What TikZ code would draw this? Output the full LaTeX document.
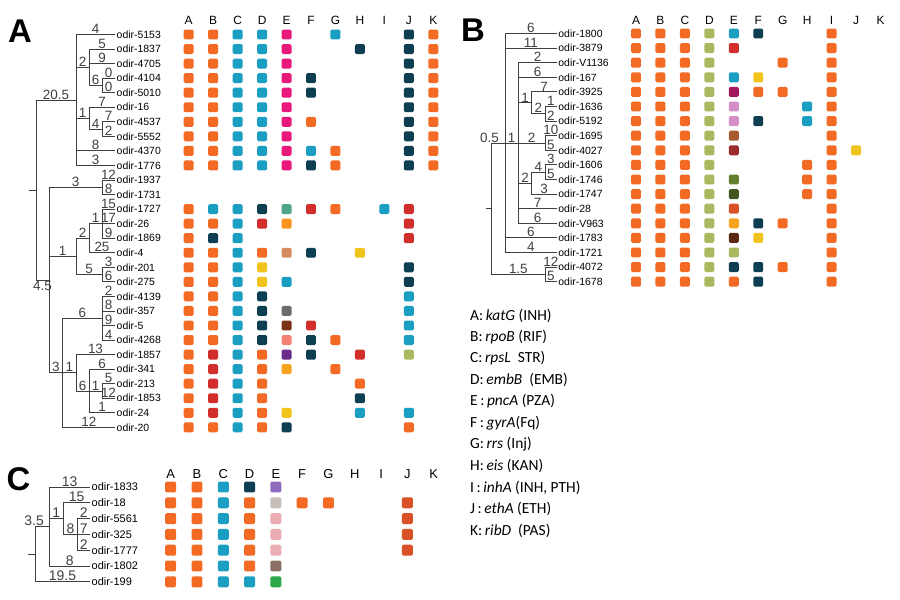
\documentclass[tikz,border=0pt]{standalone}
\usepackage{fontspec}
\setmainfont{Liberation Sans}
\newfontfamily\legendfont{Carlito}

% colours of the mutation squares
\definecolor{or}{HTML}{F26A24}
\definecolor{cy}{HTML}{1A9EC2}
\definecolor{nv}{HTML}{0D3E52}
\definecolor{mg}{HTML}{E8197A}
\definecolor{rd}{HTML}{D22F2C}
\definecolor{lg}{HTML}{A8B95F}
\definecolor{yl}{HTML}{F1C31D}
\definecolor{tg}{HTML}{4FA48C}
\definecolor{am}{HTML}{F6A41E}
\definecolor{ao}{HTML}{F7941D}
\definecolor{tn}{HTML}{D68B5E}
\definecolor{gy}{HTML}{6B6B6B}
\definecolor{db}{HTML}{7B3116}
\definecolor{sa}{HTML}{F48175}
\definecolor{pu}{HTML}{6A2B8A}
\definecolor{wn}{HTML}{A21A5B}
\definecolor{li}{HTML}{D48FC8}
\definecolor{br}{HTML}{A55A2F}
\definecolor{dr}{HTML}{9D2A2C}
\definecolor{ol}{HTML}{63802F}
\definecolor{dl}{HTML}{44561F}
\definecolor{ro}{HTML}{D95227}
\definecolor{dk}{HTML}{5B2812}
\definecolor{la}{HTML}{8F6BBE}
\definecolor{be}{HTML}{C8C0B8}
\definecolor{pk}{HTML}{E9ADB3}
\definecolor{tp}{HTML}{8B6F66}
\definecolor{gr}{HTML}{2EA84A}

\tikzstyle{branch} = [draw, line width=0.9pt, black!75]
\tikzstyle{blen} = [above, pos=0.75, inner sep=0.4pt, font=\fontsize{13.5}{14}\selectfont]
\tikzstyle{leaf} = [anchor=west, inner sep=1.5pt, font=\fontsize{10.5}{11}\selectfont]
\tikzstyle{cell} = [rectangle, rounded corners=1.5pt, minimum size=10pt, inner sep=0pt]
\tikzstyle{hdr} = [font=\fontsize{12}{13}\selectfont]
\tikzstyle{panel} = [font=\fontsize{33}{34}\selectfont\bfseries]
\tikzstyle{legend} = [anchor=west, inner sep=0pt, font=\legendfont\fontsize{15.5}{16}\selectfont]

\begin{document}
\begin{tikzpicture}[x=1bp, y=-1bp]
    \path[use as bounding box, fill=white] (0,0) rectangle (900,600);

    % ---------- panel A ----------
    \node[panel] (pA) at (20,31.5) {A};
    \foreach \l [count=\c from 0] in {A,B,C,D,E,F,G,H,I,J,K}
        \node[hdr] (Ah\l) at ({188.7+24.46*\c},20.5) {\l};
    % feuilles
    \foreach \name [count=\i from 0] in {5153,1837,4705,4104,5010,16,4537,5552,4370,1776,1937,1731,1727,26,1869,4,201,275,4139,357,5,4268,1857,341,213,1853,24,20}
        \node[leaf] (A\name) at (115,{34.5+14.55*\i}) {odir-\name};
    % noeuds internes
    \foreach \x/\y/\name in {36/190/rA, 76/100/a205, 89/67.24/a2, 102/85.43/a6, 89/118.16/a1, 102/129.08/a4,
        49/280.03/a45, 102/187.28/a3, 76/256.39/a1b, 89/238.2/a2b, 102/223.65/a1c, 102/274.58/a5,
        62.7/372.79/aX, 102/318.23/a6b, 76/372.79/a1d, 89/390.98/a6c, 102/390.98/a1e, 29/190/rA0}
        \coordinate (\name) at (\x,\y);
    % branches
    \path[branch] (rA0) -- (rA);
    \path[branch] (rA) |- node[blen, below] {4.5} (a45);
    \foreach \source/\dest/\len in {rA/a205/20.5, a205/A5153/4, a205/a2/2, a205/a1/1, a205/A4370/8, a205/A1776/3,
        a2/A1837/5, a2/A4705/9, a2/a6/6, a6/A4104/0, a6/A5010/0, a1/A16/7, a1/a4/4, a4/A4537/7, a4/A5552/2,
        a45/a3/3, a45/a1b/1, a45/aX/3, a3/A1937/12, a3/A1731/8, a1b/a2b/2, a1b/a5/5, a2b/a1c/1, a2b/A4/25,
        a1c/A1727/15, a1c/A26/17, a1c/A1869/9, a5/A201/3, a5/A275/6, aX/a6b/6, aX/a1d/1, aX/A20/12,
        a6b/A4139/2, a6b/A357/8, a6b/A5/9, a6b/A4268/4, a1d/A1857/13, a1d/a6c/6,
        a6c/A341/6, a6c/a1e/1, a6c/A24/1, a1e/A213/5, a1e/A1853/12}
        \path[branch] (\source) |- node[blen] {\len} (\dest);
    % mutations
    \foreach \i/\cells in {0/{0/or,1/or,2/cy,3/cy,4/mg,6/cy,9/nv,10/or}, 1/{0/or,1/or,2/cy,3/cy,4/mg,7/nv,9/nv,10/or},
        2/{0/or,1/or,2/cy,3/cy,4/mg,9/nv,10/or}, 3/{0/or,1/or,2/cy,3/cy,4/mg,5/nv,9/nv,10/or},
        4/{0/or,1/or,2/cy,3/cy,4/mg,5/nv,9/nv,10/or}, 5/{0/or,1/or,2/cy,3/cy,4/mg,9/nv,10/or},
        6/{0/or,1/or,2/cy,3/cy,4/mg,5/or,9/nv,10/or}, 7/{0/or,1/or,2/cy,3/cy,4/mg,9/nv,10/or},
        8/{0/or,1/or,2/cy,3/cy,4/mg,5/cy,6/or,9/nv,10/or}, 9/{0/or,1/or,2/cy,3/cy,4/mg,5/nv,6/or,9/nv,10/or},
        12/{0/or,1/cy,2/cy,3/nv,4/tg,5/rd,6/or,8/cy,9/rd}, 13/{0/or,1/or,2/cy,3/rd,4/ao,9/rd},
        14/{0/or,1/nv,2/cy,9/rd}, 15/{0/or,1/or,2/cy,3/or,4/tn,5/nv,7/yl},
        16/{0/or,1/or,2/cy,3/yl,9/nv}, 17/{0/or,1/or,2/cy,3/yl,4/cy,9/nv},
        18/{0/or,1/or,2/cy,3/nv,9/cy}, 19/{0/or,1/or,2/cy,3/nv,4/gy,9/cy},
        20/{0/or,1/or,2/cy,3/nv,4/db,5/rd,9/cy}, 21/{0/or,1/or,2/cy,3/nv,4/sa,5/nv,6/or,9/cy},
        22/{0/or,1/rd,2/cy,3/or,4/pu,5/nv,7/rd,9/lg}, 23/{0/or,1/rd,2/cy,3/or,4/am,6/or},
        24/{0/or,1/rd,2/cy,3/or,7/or}, 25/{0/or,1/rd,2/cy,3/or,7/nv},
        26/{0/or,1/rd,2/cy,3/or,4/yl,7/cy,9/cy}, 27/{0/or,1/or,2/cy,3/or,4/nv,9/or}}
        \foreach \c/\col in \cells
            \node[cell, fill=\col] (A\i-\c) at ({188.7+24.46*\c},{34.5+14.55*\i}) {};

    % ---------- panel B ----------
    \node[panel] (pB) at (473,30.5) {B};
    \foreach \l [count=\c from 0] in {A,B,C,D,E,F,G,H,I,J,K}
        \node[hdr] (Bh\l) at ({636+24.45*\c},20.5) {\l};
    \foreach \name [count=\i from 0] in {1800,3879,V1136,167,3925,1636,5192,1695,4027,1606,1746,1747,28,V963,1783,1721,4072,1678}
        \node[leaf] (B\name) at (556.7,{33.5+14.6*\i}) {odir-\name};
    \foreach \x/\y/\name in {491.7/208.7/rB, 505/143/b05, 518.3/143/b1, 531.7/102.85/b1b, 545/113.8/b2c,
        545/143/b2, 531.7/183.15/b2b, 545/172.2/b4, 545/274.4/b15, 486/208.7/rB0}
        \coordinate (\name) at (\x,\y);
    \path[branch] (rB0) -- (rB);
    \path[branch] (rB) |- node[blen, xshift=-9pt] {0.5} (b05);
    \foreach \source/\dest/\len in {rB/b15/1.5, b05/B1800/6, b05/B3879/11, b05/b1/1, b05/B1783/6, b05/B1721/4,
        b1/BV1136/2, b1/B167/6, b1/b1b/1, b1/b2/2, b1/b2b/2, b1/B28/7, b1/BV963/6,
        b1b/B3925/7, b1b/b2c/2, b2c/B1636/1, b2c/B5192/2, b2/B1695/10, b2/B4027/5,
        b2b/b4/4, b2b/B1747/3, b4/B1606/3, b4/B1746/5, b15/B4072/12, b15/B1678/5}
        \path[branch] (\source) |- node[blen] {\len} (\dest);
    \foreach \i/\cells in {0/{0/or,1/or,2/or,3/lg,4/cy,5/nv,8/or}, 1/{0/or,1/or,2/or,3/lg,4/rd,8/or},
        2/{0/or,1/or,2/or,3/lg,6/or,8/or}, 3/{0/or,1/or,2/or,3/lg,4/cy,5/yl,8/or},
        4/{0/or,1/or,2/or,3/lg,4/wn,5/or,6/or,8/or}, 5/{0/or,1/or,2/or,3/lg,4/li,7/cy,8/or},
        6/{0/or,1/or,2/or,3/lg,4/li,5/nv,7/cy,8/or}, 7/{0/or,1/or,2/or,3/lg,4/br,8/or},
        8/{0/or,1/or,2/or,3/lg,4/dr,8/or,9/yl}, 9/{0/or,1/or,2/or,3/lg,7/or,8/or},
        10/{0/or,1/or,2/or,3/lg,4/ol,7/or,8/or}, 11/{0/or,1/or,2/or,3/lg,4/dl,7/or,8/or},
        12/{0/or,1/or,2/or,3/lg,4/ro,8/or}, 13/{0/or,1/or,2/or,3/lg,4/am,5/nv,6/or,8/or},
        14/{0/or,1/or,2/or,3/lg,4/dk,5/yl,8/or}, 15/{0/or,1/or,2/or,3/lg,4/lg,8/or},
        16/{0/or,1/or,2/or,3/lg,4/nv,5/nv,6/or,8/or}, 17/{0/or,1/or,2/or,3/lg,4/or,5/nv,8/or}}
        \foreach \c/\col in \cells
            \node[cell, fill=\col] (B\i-\c) at ({636+24.45*\c},{33.5+14.6*\i}) {};

    % ---------- panel C ----------
    \node[panel] (pC) at (18.5,479.5) {C};
    \foreach \l [count=\c from 0] in {A,B,C,D,E,F,G,H,I,J,K}
        \node[hdr, font=\fontsize{13}{14}\selectfont] (Ch\l) at ({170.7+26.3*\c},474.5) {\l};
    \foreach \name [count=\i from 0] in {1833,18,5561,325,1777,1802,199}
        \node[leaf, font=\fontsize{11}{12}\selectfont] (C\name) at (90,{487+15.8*\i}) {odir-\name};
    \foreach \x/\y/\name in {35/554.15/rC, 49.3/526.5/c35, 63.3/518.6/c1, 77.7/534.4/c8, 28.3/554.15/rC0}
        \coordinate (\name) at (\x,\y);
    \path[branch] (rC0) -- (rC);
    \path[branch] (rC) |- node[blen, xshift=-8pt, font=\fontsize{14}{15}\selectfont] {3.5} (c35);
    \foreach \source/\dest/\len in {rC/C199/19.5, c35/C1833/13, c35/c1/1, c35/C1802/8, c1/C18/15, c1/c8/8,
        c8/C5561/2, c8/C325/7, c8/C1777/2}
        \path[branch] (\source) |- node[blen, font=\fontsize{14}{15}\selectfont] {\len} (\dest);
    \foreach \i/\cells in {0/{0/or,1/or,2/cy,3/nv,4/la}, 1/{0/or,1/or,2/cy,3/or,4/be,5/or,6/or,9/ro},
        2/{0/or,1/or,2/cy,3/or,4/pk,9/ro}, 3/{0/or,1/or,2/cy,3/or,4/pk,9/ro}, 4/{0/or,1/or,2/cy,3/or,4/pk,9/ro},
        5/{0/or,1/or,2/cy,3/or,4/tp}, 6/{0/or,1/or,2/cy,3/cy,4/gr}}
        \foreach \c/\col in \cells
            \node[cell, minimum size=11pt, fill=\col] (C\i-\c) at ({170.7+26.3*\c},{487+15.8*\i}) {};

    % ---------- legende ----------
    \foreach \txt [count=\k from 0] in {{A:\,\textit{katG} (INH)}, {B:\,\textit{rpoB} (RIF)}, {C:\,\textit{rpsL}\ \ STR)},
        {D:\,\textit{embB}\ \ (EMB)}, {E\,:\,\textit{pncA} (PZA)}, {F\,:\,\textit{gyrA}(Fq)}, {G:\,\textit{rrs} (Inj)},
        {H:\,\textit{eis} (KAN)}, {I\,:\,\textit{inhA} (INH, PTH)}, {J\,:\,\textit{ethA} (ETH)}, {K:\,\textit{ribD}\ \ (PAS)}}
        \node[legend] (key\k) at (470,{315.5+21.5*\k}) {\txt};
\end{tikzpicture}
\end{document}
